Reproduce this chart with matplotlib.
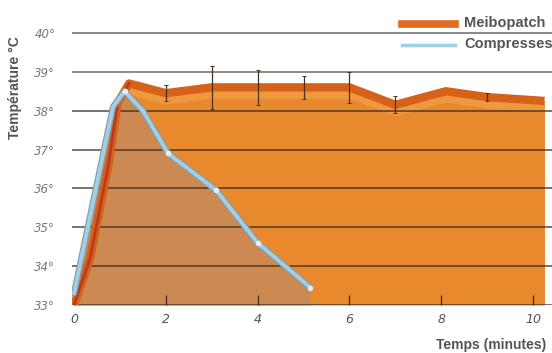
import matplotlib.pyplot as plt
import numpy as np

# Données
meibo_t = [0, 0.35, 0.75, 0.95, 1.2, 2, 3, 4, 5, 6, 7, 8.1, 9, 10.25]
meibo_temp = [33.0, 34.2, 36.6, 38.2, 38.7, 38.45, 38.6, 38.6, 38.6, 38.6, 38.15, 38.5, 38.35, 38.25]

err_t = [2, 3, 4, 5, 6, 7, 9]
err_temp = [38.45, 38.6, 38.6, 38.6, 38.6, 38.15, 38.35]
err_size = [0.2, 0.55, 0.45, 0.3, 0.4, 0.22, 0.1]

comp_t = [0, 0.3, 0.85, 1.1, 1.5, 2.05, 3.1, 4.0, 5.15]
comp_temp = [33.3, 35.0, 38.1, 38.5, 38.0, 36.9, 35.95, 34.6, 33.45]
comp_marks = [3, 5, 6, 7, 8]  # indices des points marqués

yticks = [33, 34, 35, 36, 37, 38, 39, 40]
ytick_labels = [f"{v}°" for v in yticks]
xticks = [0, 2, 4, 6, 8, 10]

W, H = 552, 353
fig = plt.figure(figsize=(W / 100, H / 100), dpi=100)
ax = fig.add_axes([72 / W, (H - 305) / H, (W - 72) / W, (305 - 24) / H])
ax.set_xlim(-0.044, 10.414)
ax.set_ylim(33, 40.23)

# Aire Meibopatch
ax.fill_between(meibo_t, 33, meibo_temp, color="#e8892e", lw=0, zorder=1)
# bande claire sous la courbe
ax.fill_between(meibo_t[4:], np.array(meibo_temp[4:]) - 0.28, meibo_temp[4:],
                color="#ee9840", lw=0, zorder=1.2)
# Aire Compresses
ax.fill_between(comp_t, 33, comp_temp, color="#cc8a52", lw=0, zorder=1.5)

# Grille horizontale
for v in yticks:
    ax.axhline(v, color="#3a2a20" if v < 39 else "#444444",
               lw=1.1, alpha=0.85 if v < 39 else 0.8, zorder=2)

# Courbe Meibopatch
ax.plot(meibo_t, meibo_temp, color="#d6621a", lw=6, solid_capstyle="butt",
        zorder=3)
ax.plot(meibo_t[:5], meibo_temp[:5], color="#b83a20", lw=2, zorder=3.1)
ax.errorbar(err_t, err_temp, yerr=err_size, fmt="none", ecolor="#4a3020",
            elinewidth=0.9, capsize=1.5, capthick=0.7, zorder=4)

# Courbe Compresses
ax.plot(comp_t, comp_temp, color="#8a9aa5", lw=4.5, zorder=5,
        solid_capstyle="round")
ax.plot(comp_t, comp_temp, color="#9fd0e6", lw=2.8, zorder=5.1,
        solid_capstyle="round")
ax.plot([comp_t[i] for i in comp_marks], [comp_temp[i] for i in comp_marks],
        "o", ms=4, color="#e6eef0", mec="none", zorder=5.2)

# Axes
for s in ax.spines.values():
    s.set_visible(False)
ax.set_yticks(yticks)
ax.set_yticklabels(ytick_labels, fontsize=8.5, style="italic", color="#777777")
ax.tick_params(axis="y", length=0, pad=12)
ax.set_xticks(xticks)
ax.set_xticklabels([str(v) for v in xticks], fontsize=9, style="italic",
                   color="#555555")
ax.tick_params(axis="x", direction="in", length=7, width=1, color="#4a3020",
               pad=6)

fam = ["Liberation Sans", "DejaVu Sans"]
fig.text(15 / W, 1 - 88 / H, "Température °C", rotation=90, ha="center",
         va="center", fontsize=10, fontweight="bold", color="#555555",
         family=fam)
fig.text(546 / W, 1 - 345 / H, "Temps (minutes)", ha="right", va="center",
         fontsize=10, fontweight="bold", color="#555555", family=fam)

# Légende
fig.add_artist(plt.Line2D([402 / W, 455 / W], [1 - 24 / H, 1 - 24 / H],
                          color="#e06d20", lw=5.5))
fig.add_artist(plt.Line2D([402 / W, 455 / W], [1 - 45 / H, 1 - 45 / H],
                          color="#9fd0e6", lw=2.5))
fig.text(464 / W, 1 - 23 / H, "Meibopatch", ha="left", va="center",
         fontsize=10.5, fontweight="bold", color="#555555", family=fam)
fig.text(464 / W, 1 - 44 / H, "Compresses", ha="left", va="center",
         fontsize=10.5, fontweight="bold", color="#555555", family=fam)

fig.savefig("out.png", dpi=100)
